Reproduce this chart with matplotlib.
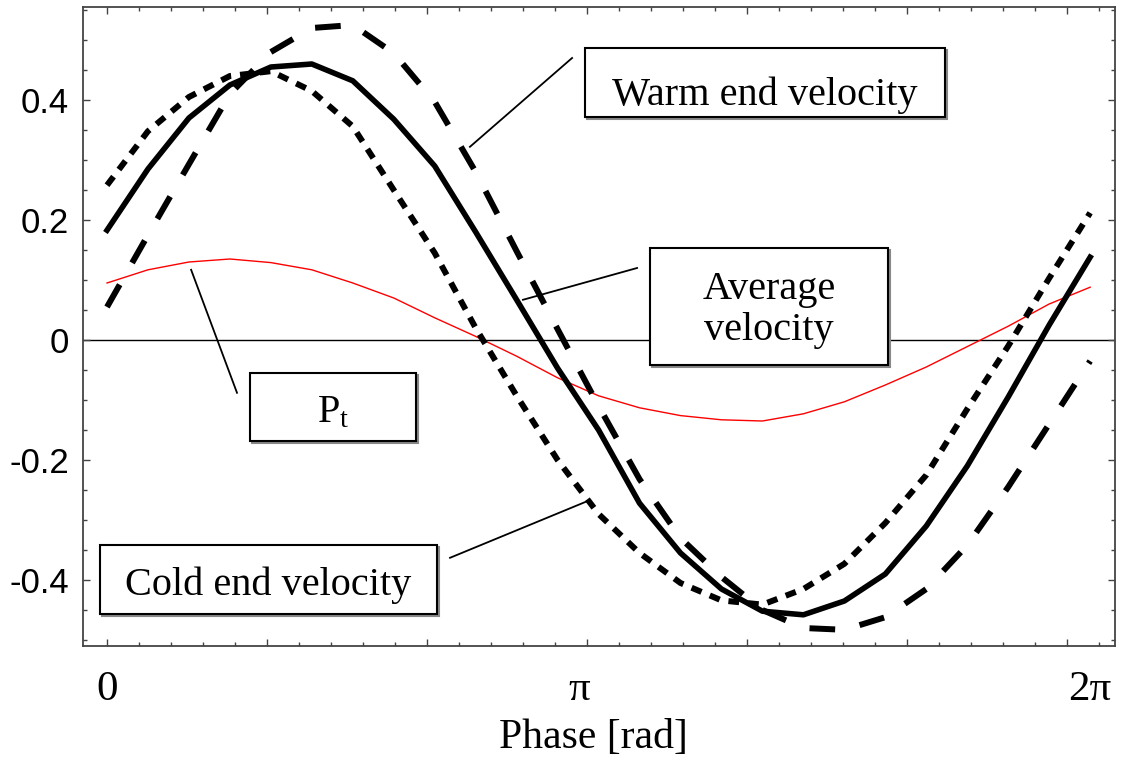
import matplotlib
matplotlib.use("Agg")
import matplotlib.pyplot as plt
from matplotlib.patches import Rectangle
from matplotlib.ticker import MultipleLocator
from matplotlib import transforms

plt.rcParams['font.family'] = ['Liberation Serif', 'DejaVu Serif']
plt.rcParams['mathtext.fontset'] = 'custom'
plt.rcParams['mathtext.rm'] = 'Liberation Serif'
plt.rcParams['mathtext.it'] = 'Liberation Serif:italic'

# phase in degrees, sampled every 15 degrees
phase = [0, 15, 30, 45, 60, 75, 90, 105, 120, 135, 150, 165, 180,
         195, 210, 225, 240, 255, 270, 285, 300, 315, 330, 345, 360]

warm_end = [0.055, 0.175, 0.293, 0.41, 0.48, 0.52, 0.525, 0.478, 0.397, 0.28, 0.148, 0.018, -0.11,
            -0.232, -0.33, -0.395, -0.45, -0.48, -0.483, -0.462, -0.415, -0.342, -0.245, -0.14, -0.035]
average = [0.183, 0.285, 0.37, 0.425, 0.455, 0.46, 0.432, 0.368, 0.29, 0.18, 0.067, -0.047, -0.15,
           -0.272, -0.355, -0.415, -0.452, -0.458, -0.435, -0.39, -0.31, -0.21, -0.095, 0.025, 0.138]
cold_end = [0.258, 0.348, 0.405, 0.44, 0.448, 0.415, 0.356, 0.25, 0.145, 0.02, -0.093, -0.2, -0.29,
            -0.355, -0.405, -0.434, -0.441, -0.415, -0.373, -0.305, -0.225, -0.115, -0.01, 0.103, 0.212]
p_t = [0.095, 0.117, 0.13, 0.135, 0.129, 0.117, 0.095, 0.07, 0.037, 0.006, -0.027, -0.063, -0.093,
       -0.113, -0.126, -0.133, -0.135, -0.123, -0.103, -0.075, -0.045, -0.011, 0.023, 0.06, 0.088]

y_ticks = [-0.4, -0.2, 0, 0.2, 0.4]
y_labels = ["-0.4", "-0.2", "0", "0.2", "0.4"]
x_label_pos = [0, 173, 360]
x_labels = ["0", "\u03c0", "2\u03c0"]

fig = plt.figure(figsize=(11.22, 7.67), dpi=100)
ax = fig.add_axes([83 / 1122, 121 / 767, 1032 / 1122, 639 / 767])

ax.axhline(0, color="black", lw=1.0, zorder=1)
ax.plot(phase, p_t, color="red", lw=1.0, zorder=2)
ax.plot(phase, warm_end, color="black", lw=4.3, dashes=(4.3, 4.2), zorder=3)
ax.plot(phase, average, color="black", lw=4.0, zorder=3)
ax.plot(phase, cold_end, color="black", lw=4.3, dashes=(1.8, 1.5), zorder=3)

ax.set_xlim(-8.79, 369.1)
ax.set_ylim(-0.51, 0.555)

ax.xaxis.set_major_locator(MultipleLocator(58.6))
ax.xaxis.set_minor_locator(MultipleLocator(58.6 / 5))
ax.set_xticklabels([])
ax.set_yticks(y_ticks)
ax.set_yticklabels(y_labels, family="Liberation Sans", fontsize=25)
ax.yaxis.set_minor_locator(MultipleLocator(0.05))
ax.tick_params(which="both", direction="in", top=True, right=True, color="#444444", width=1.0)
ax.tick_params(which="major", length=5)
ax.tick_params(which="minor", length=3)
ax.tick_params(axis="y", pad=10)
for s in ax.spines.values():
    s.set_color("#444444")
    s.set_linewidth(1.3)

blend = transforms.blended_transform_factory(ax.transData, ax.transAxes)
for pos, lab in zip(x_label_pos, x_labels):
    ax.text(pos, -0.085, lab, transform=blend, ha="center", va="baseline", fontsize=31)
fig.text(593 / 1122, 19 / 767, "Phase [rad]", ha="center", va="baseline", fontsize=30)

# label boxes and leader lines
shadow = transforms.offset_copy(ax.transData, fig=fig, x=2, y=-2, units="dots")


def label_box(x0, x1, y0, y1):
    ax.add_patch(Rectangle((x0, y0), x1 - x0, y1 - y0, transform=shadow,
                           facecolor="none", edgecolor="#888888", lw=1.5, zorder=4))
    ax.add_patch(Rectangle((x0, y0), x1 - x0, y1 - y0,
                           facecolor="white", edgecolor="black", lw=1.5, zorder=5))


label_box(175, 307, 0.372, 0.487)
ax.text(241, 0.392, "Warm end velocity", ha="center", va="baseline", fontsize=29, zorder=6)
ax.plot([132.9, 170.3], [0.322, 0.47], color="black", lw=1.3, zorder=4)

label_box(198.9, 286, -0.042, 0.153)
ax.text(242.4, 0.05, "Average\nvelocity", ha="center", va="center", fontsize=29,
        linespacing=1.15, zorder=6)
ax.plot([152.3, 194.1], [0.067, 0.12], color="black", lw=1.3, zorder=4)

label_box(52.4, 113.2, -0.168, -0.055)
ax.text(82.8, -0.138, r"P$_\mathrm{t}$", ha="center", va="baseline", fontsize=29, zorder=6)
ax.plot([30.8, 47.6], [0.117, -0.088], color="black", lw=1.3, zorder=4)

label_box(-2.6, 120.9, -0.457, -0.342)
ax.text(59, -0.425, "Cold end velocity", ha="center", va="baseline", fontsize=29, zorder=6)
ax.plot([125.6, 176.2], [-0.363, -0.268], color="black", lw=1.3, zorder=4)

fig.savefig("out.png", dpi=100)
